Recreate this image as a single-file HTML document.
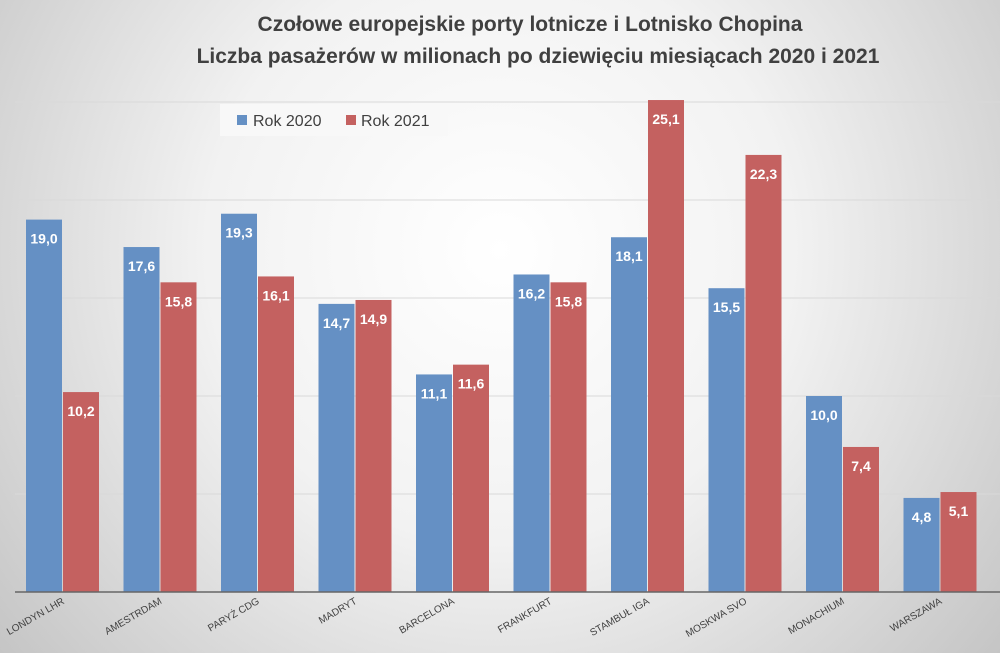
<!DOCTYPE html>
<html><head><meta charset="utf-8"><style>
body{margin:0;width:1000px;height:653px;overflow:hidden;font-family:"Liberation Sans",sans-serif}
svg{display:block}
</style></head><body>
<svg id="chart" width="1000" height="653" viewBox="0 0 1000 653" xmlns="http://www.w3.org/2000/svg">
<defs><radialGradient id="bg" cx="500" cy="250" r="650" gradientUnits="userSpaceOnUse">
<stop offset="0" stop-color="#ffffff"/><stop offset="0.45" stop-color="#f2f2f2"/><stop offset="1" stop-color="#c4c4c4"/></radialGradient></defs>
<rect width="1000" height="653" fill="url(#bg)"/>
<text x="530" y="31" text-anchor="middle" font-size="21" font-weight="bold" fill="#404040">Czołowe europejskie porty lotnicze i Lotnisko Chopina</text>
<text x="538" y="63" text-anchor="middle" font-size="21" font-weight="bold" fill="#404040">Liczba pasażerów w milionach po dziewięciu miesiącach 2020 i 2021</text>
<g id="grid"></g>
<g id="bars"></g>
<g>
<rect x="220" y="104" width="228" height="32" fill="#f8f8f8"/>
<rect x="237" y="115" width="10" height="10" fill="#6590c4"/>
<text x="253" y="126" font-size="16" fill="#404040">Rok 2020</text>
<rect x="346" y="115" width="10" height="10" fill="#c46160"/>
<text x="361" y="126" font-size="16" fill="#404040">Rok 2021</text>
</g>
<line x1="15" y1="592" x2="1000" y2="592" stroke="#666" stroke-width="1.5"/>
</svg>
<script>
const categories=["LONDYN LHR","AMESTRDAM","PARYŻ CDG","MADRYT","BARCELONA","FRANKFURT","STAMBUŁ IGA","MOSKWA SVO","MONACHIUM","WARSZAWA"];
const values2020=[19.0,17.6,19.3,14.7,11.1,16.2,18.1,15.5,10.0,4.8];
const values2021=[10.2,15.8,16.1,14.9,11.6,15.8,25.1,22.3,7.4,5.1];
const gridTicks=[5,10,15,20,25];
const NS="http://www.w3.org/2000/svg";
const base=592, ppu=19.6, x0=26, step=97.5, bw=36;
const y=v=>base-v*ppu;
const xg=i=>x0+i*step;
const grid=document.getElementById('grid'), bars=document.getElementById('bars');
function mk(tag,attrs,parent){const e=document.createElementNS(NS,tag);for(const k in attrs)e.setAttribute(k,attrs[k]);parent.appendChild(e);return e;}
gridTicks.forEach(t=>{
 const l=mk('line',{x1:15,x2:1000,y1:y(t),y2:y(t),stroke:'#d9d9d9','stroke-width':1},grid);
 
 
});
const fmt=v=>v.toFixed(1).replace('.',',');
categories.forEach((c,i)=>{
 [[values2020[i],'#6590c4',0,'2020'],[values2021[i],'#c46160',bw+1,'2021']].forEach(([v,col,off,yr])=>{
  const r=mk('rect',{x:xg(i)+off,y:y(v),width:bw,height:v*ppu,fill:col},bars);
  
  
  const t=mk('text',{x:xg(i)+off+bw/2,y:y(v)+24,'text-anchor':'middle','font-size':14,'font-weight':'bold',fill:'#fff'},bars);
  t.textContent=fmt(v);
  
  
 });
 const cx=xg(i)+bw+3;
 const lb=mk('text',{x:cx,y:603,'text-anchor':'end','font-size':10,fill:'#404040',transform:`rotate(-30 ${cx} 603)`},bars);
 lb.textContent=c;
 
 
});
</script>
</body></html>
